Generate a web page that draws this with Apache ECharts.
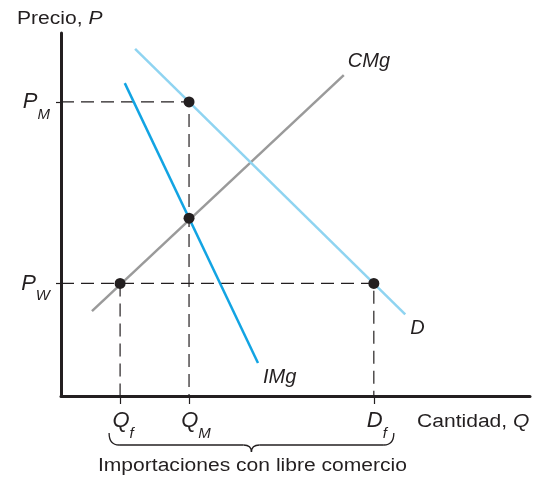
<!DOCTYPE html>
<html>
<head>
<meta charset="utf-8">
<script src="https://cdn.jsdelivr.net/npm/echarts@6/dist/echarts.min.js"></script>
<style>
  html, body { margin: 0; padding: 0; background: #fff; }
  #main { width: 543px; height: 480px; }
</style>
</head>
<body>
<div id="main"></div>
<script>
// valores (unidades arbitrarias 0..100)
const qTicks = [12.6, 27.3, 66.7];      // Qf, QM, Df
const qLabels = ['{gf|}{p|Q}{s|f}', '{gm|}{p|Q}{s|M}', '{gf|}{p|D}{s|f}'];
const pTicks = [31, 81];                 // PW, PM
const pLabels = ['{p|P}{s|W}', '{p|P}{s|M}'];

const cmgLine = [[6.6, 23.4], [60.3, 88.4]];
const demandLine = [[15.8, 95.6], [73.4, 22.5]];
const imgLine = [[13.6, 86.2], [42.0, 9.1]];

const points = [[27.3, 81], [27.3, 49], [12.6, 31], [66.7, 31]];

const ink = '#231f20';
const font = '"Liberation Sans", Arial, sans-serif';

const richLbl = {
  p: { fontSize: 22, fontStyle: 'italic', color: ink, fontFamily: font, lineHeight: 24 },
  s: { fontSize: 15, fontStyle: 'italic', color: ink, fontFamily: font, lineHeight: 24, verticalAlign: 'bottom', padding: [0, 0, -8, 0] },
  gf: { width: 6 },
  gm: { width: 14 }
};

// lineas guia punteadas
const guides = [
  [[0, pTicks[1]], [qTicks[1], pTicks[1]], [qTicks[1], 0]],
  [[0, pTicks[0]], [qTicks[2], pTicks[0]], [qTicks[2], 0]],
  [[qTicks[0], pTicks[0]], [qTicks[0], 0]]
];

const myChart = echarts.init(document.getElementById('main'));

var series = [];
guides.forEach(function (g) {
  series.push({
    type: 'line', data: g, symbol: 'none', silent: true, z: 1,
    lineStyle: { color: ink, width: 1.2, type: [13, 7] }
  });
});

var serieLabel = { show: true, fontSize: 20, fontStyle: 'italic', color: ink, fontFamily: font };

series.push({
  name: 'CMg', type: 'line', data: cmgLine, symbol: 'none', z: 2,
  lineStyle: { color: '#9a9a9a', width: 2.5 },
  endLabel: Object.assign({}, serieLabel, { formatter: 'CMg', offset: [-4, -14] })
});
series.push({
  name: 'D', type: 'line', data: demandLine, symbol: 'none', z: 2,
  lineStyle: { color: '#8fd4f1', width: 2.5 },
  endLabel: Object.assign({}, serieLabel, { formatter: 'D', offset: [-3, 14] })
});
series.push({
  name: 'IMg', type: 'line', data: imgLine, symbol: 'none', z: 2,
  lineStyle: { color: '#12a4e3', width: 2.5 },
  endLabel: Object.assign({}, serieLabel, { formatter: 'IMg', offset: [-3, 14] })
});
series.push({
  type: 'scatter', data: points, symbolSize: 11, z: 5,
  itemStyle: { color: ink, opacity: 1 }
});

var option = {
  animation: false,
  grid: { left: 61, right: 13, top: 33, bottom: 84 },
  xAxis: {
    type: 'value', min: 0, max: 100,
    splitLine: { show: false },
    axisLine: { onZero: false, lineStyle: { color: ink, width: 3 } },
    axisTick: { show: true, customValues: qTicks, length: 8, lineStyle: { color: ink, width: 1.2 } },
    axisLabel: {
      customValues: qTicks, margin: 13,
      formatter: function (v) { return qLabels[qTicks.indexOf(v)] || ''; },
      rich: richLbl
    }
  },
  yAxis: {
    type: 'value', min: 0, max: 100,
    splitLine: { show: false },
    axisLine: { onZero: false, lineStyle: { color: ink, width: 3 } },
    axisTick: { show: true, customValues: pTicks, length: 5, lineStyle: { color: ink, width: 1.2 } },
    axisLabel: {
      customValues: pTicks, margin: 11,
      formatter: function (v) { return pLabels[pTicks.indexOf(v)] || ''; },
      rich: richLbl
    }
  },
  series: series
};

myChart.setOption(option);

// llave y textos, ubicados desde la escala
var pL = myChart.convertToPixel({ gridIndex: 0 }, [qTicks[0], 0]);
var pR = myChart.convertToPixel({ gridIndex: 0 }, [qTicks[2], 0]);
var xL = pL[0] - 11, xR = pR[0] + 20, cx = (xL + xR) / 2;
var yT = pL[1] + 37, yB = pL[1] + 49, yP = pL[1] + 56;
var braceStyle = { stroke: ink, lineWidth: 1.3, fill: null };

function curve(x1, y1, cpx, cpy, x2, y2) {
  return { type: 'bezierCurve', shape: { x1: x1, y1: y1, cpx1: cpx, cpy1: cpy, x2: x2, y2: y2 }, style: braceStyle };
}
function seg(x1, y1, x2, y2) {
  return { type: 'line', shape: { x1: x1, y1: y1, x2: x2, y2: y2 }, style: braceStyle };
}
var italicRich = { i: { fontStyle: 'italic', fontSize: 18, fontFamily: font, fill: ink } };

myChart.setOption({
  graphic: [
    curve(xL, yT, xL, yB, xL + 10, yB),
    seg(xL + 10, yB, cx - 8, yB),
    curve(cx - 8, yB, cx, yB, cx, yP),
    curve(cx, yP, cx, yB, cx + 8, yB),
    seg(cx + 8, yB, xR - 10, yB),
    curve(xR - 10, yB, xR, yB, xR, yT),
    {
      type: 'text', x: cx + 1, y: yP + 14, scaleX: 1.17,
      style: { text: 'Importaciones con libre comercio', fontSize: 18, fontFamily: font, fill: ink, align: 'center', verticalAlign: 'middle' }
    },
    {
      type: 'text', x: 417, y: pL[1] + 26, scaleX: 1.17,
      style: { text: 'Cantidad, {i|Q}', fontSize: 18, fontFamily: font, fill: ink, verticalAlign: 'middle', rich: italicRich }
    },
    {
      type: 'text', x: 17, y: 19, scaleX: 1.17,
      style: { text: 'Precio, {i|P}', fontSize: 18, fontFamily: font, fill: ink, verticalAlign: 'middle', rich: italicRich }
    }
  ]
});
</script>
</body>
</html>
